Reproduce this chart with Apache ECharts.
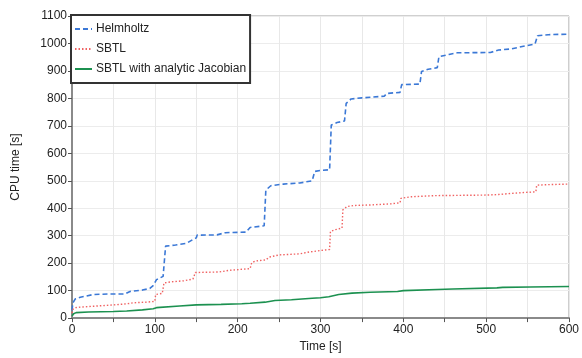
<!DOCTYPE html>
<html>
<head>
<meta charset="utf-8">
<script src="https://cdn.jsdelivr.net/npm/echarts@6/dist/echarts.min.js"></script>
<style>
  html, body { margin: 0; padding: 0; background: #fff; }
  #chart { width: 582px; height: 358px; }
</style>
</head>
<body>
<div id="chart"></div>
<script>
// CPU time curves, [time s, cpu s]
const helmholtz = [
  [0, 28], [1, 55], [4, 70], [10, 76], [26, 86], [46, 88], [64, 88], [70, 97], [85, 102],
  [94, 108], [98, 118], [102, 140], [110, 152], [112, 158], [113, 262], [125, 266], [138, 272],
  [146, 286], [150, 292], [151, 302], [175, 303], [185, 311], [210, 313], [215, 330], [232, 336],
  [234, 466], [240, 482], [255, 488], [275, 492], [290, 500], [293, 534], [300, 538], [311, 540],
  [313, 703], [320, 712], [329, 718], [331, 782], [337, 798], [350, 802], [377, 808], [380, 818],
  [396, 822], [398, 850], [420, 852], [422, 898], [430, 906], [441, 912], [443, 952], [455, 960],
  [465, 966], [505, 967], [515, 976], [530, 980], [545, 990], [559, 998], [562, 1028], [575, 1032],
  [600, 1034]
];
const sbtl = [
  [0, 18], [1, 32], [4, 38], [10, 40], [30, 44], [50, 48], [66, 52], [75, 56], [90, 58], [100, 61],
  [101, 86], [109, 90], [111, 128], [120, 132], [135, 136], [146, 142], [149, 166], [178, 168],
  [190, 174], [215, 180], [217, 202], [222, 208], [234, 212], [238, 222], [250, 230], [275, 234],
  [285, 240], [300, 246], [311, 250], [312, 316], [318, 322], [326, 328], [327, 394], [332, 406],
  [340, 410], [360, 412], [385, 416], [396, 420], [397, 436], [410, 442], [440, 446], [500, 448],
  [515, 450], [530, 454], [560, 460], [561, 484], [575, 486], [600, 488]
];
const sbtlJacobian = [
  [0, 8], [2, 16], [5, 20], [20, 22], [50, 24], [66, 26], [85, 30], [98, 34], [102, 38], [130, 44],
  [150, 48], [180, 50], [205, 52], [215, 54], [233, 58], [245, 64], [265, 67], [290, 72], [300, 74],
  [310, 78], [322, 86], [338, 91], [360, 94], [393, 97], [400, 100], [441, 104], [460, 106],
  [513, 110], [520, 112], [553, 113], [600, 115]
];
const seriesNames = ['Helmholtz', 'SBTL', 'SBTL with analytic Jacobian'];

const chart = echarts.init(document.getElementById('chart'));
const font = 'Liberation Sans';

const option = {
  animation: false,
  backgroundColor: '#fff',
  textStyle: { fontFamily: font },
  grid: {
    left: 72, right: 10, top: 16, bottom: 37,
    show: true, borderColor: '#a0a0a0', borderWidth: 1
  },
  legend: {
    orient: 'vertical',
    left: 71, top: 15,
    padding: [8, 4, 8, 3],
    itemWidth: 17, itemHeight: 14, itemGap: 8,
    borderColor: '#333', borderWidth: 2,
    backgroundColor: '#fff',
    itemStyle: { opacity: 0 },
    textStyle: { fontFamily: font, fontSize: 12, color: '#222', padding: [0, 0, 0, -1] },
    data: seriesNames
  },
  xAxis: {
    type: 'value',
    min: 0, max: 600, interval: 50,
    name: 'Time [s]', nameLocation: 'middle', nameGap: 22,
    nameTextStyle: { fontFamily: font, fontSize: 12, color: '#222' },
    axisLine: { lineStyle: { color: '#8a8a8a', width: 2 } },
    axisTick: { show: true, length: 4, lineStyle: { color: '#555' } },
    axisLabel: {
      fontFamily: font, fontSize: 12, color: '#222', margin: 6,
      formatter: v => (v % 100 === 0 ? String(v) : '')
    },
    splitLine: { show: true, lineStyle: { color: '#e8e8e8' } }
  },
  yAxis: {
    type: 'value',
    min: 0, max: 1100, interval: 100,
    name: 'CPU time [s]', nameLocation: 'middle', nameGap: 50,
    nameTextStyle: { fontFamily: font, fontSize: 12, color: '#222' },
    axisLine: { show: true, lineStyle: { color: '#8a8a8a', width: 2 } },
    axisTick: { show: true, length: 4, lineStyle: { color: '#555' } },
    axisLabel: { fontFamily: font, fontSize: 12, color: '#222', margin: 5, formatter: v => String(v) },
    splitLine: { show: true, lineStyle: { color: '#ececec' } }
  },
  series: [
    {
      name: seriesNames[0], type: 'line', data: helmholtz, symbol: 'none',
      itemStyle: { color: '#3b78d6' },
      lineStyle: { color: '#3b78d6', width: 1.6, type: [5, 3] }
    },
    {
      name: seriesNames[1], type: 'line', data: sbtl, symbol: 'none',
      itemStyle: { color: '#f06262' },
      lineStyle: { color: '#f06262', width: 1.4, type: [1.5, 2] }
    },
    {
      name: seriesNames[2], type: 'line', data: sbtlJacobian, symbol: 'none',
      itemStyle: { color: '#1c9150' },
      lineStyle: { color: '#1c9150', width: 1.6 }
    }
  ]
};

chart.setOption(option);
</script>
</body>
</html>
